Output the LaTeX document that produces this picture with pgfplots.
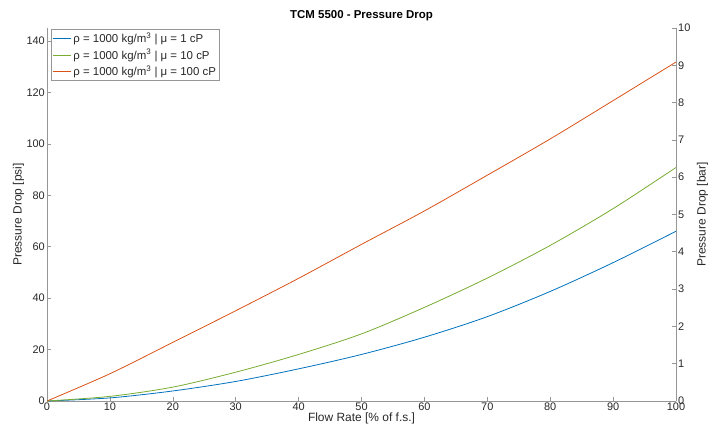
\documentclass[border=0pt]{standalone}
\usepackage{fontspec}
\setmainfont{Liberation Sans}
\usepackage{pgfplots}
\pgfplotsset{compat=1.18}

\definecolor{mblue}{RGB}{0,114,189}
\definecolor{mgreen}{RGB}{119,172,48}
\definecolor{morange}{RGB}{217,83,25}
\definecolor{axisgray}{RGB}{150,150,150}
\definecolor{labelgray}{RGB}{40,40,40}

\pgfplotsset{
  common/.style={
    at={(0,0)}, anchor=south west,
    scale only axis, width=629bp, height=373bp,
    xmin=0, xmax=100,
    tick align=inside, major tick length=4bp,
    axis line style={draw=axisgray, line width=0.6bp},
    every tick/.style={draw=axisgray, line width=0.6bp},
    tick label style={font=\fontsize{11}{12}\selectfont, text=labelgray},
    label style={font=\fontsize{12}{13}\selectfont, text=labelgray},
    /pgf/number format/assume math mode=true,
  },
}

\begin{document}
\begin{tikzpicture}
\useasboundingbox (-47bp,-26bp) rectangle (666bp,401bp);
\begin{axis}[
    common,
    ymin=0, ymax=145.038,
    axis x line*=bottom, axis y line*=left,
    xtick={0,10,...,100}, ytick={0,20,...,140},
    xticklabel style={inner sep=1bp, yshift=-0.5bp},
    yticklabel style={inner sep=2bp},
    xlabel={Flow Rate [\% of f.s.]},
    ylabel={Pressure Drop [psi]},
    xlabel style={yshift=2.5bp},
    ylabel style={yshift=-3bp},
    title={\textbf{TCM 5500 - Pressure Drop}},
    title style={font=\fontsize{11.5}{12}\selectfont, yshift=-2bp},
    legend style={at={(0.006,0.997)}, anchor=north west,
        draw=axisgray, line width=0.5bp, inner sep=1.5bp,
        font=\fontsize{11.5}{13}\selectfont, text=labelgray,
        row sep=1bp},
    legend cell align=left,
    legend image code/.code={\draw[#1, line width=0.8bp] (0bp,0bp) -- (18bp,0bp);},
]
\addplot[mblue, line width=0.8bp, smooth] coordinates {
    (0,0) (10,1.2) (20,3.9) (30,7.6) (40,12.5) (50,18.1)
    (60,24.8) (70,32.8) (80,42.6) (90,53.8) (100,66.0)
};
\addlegendentry{ρ = 1000 kg/m\textsuperscript{3} | μ = 1 cP}
\addplot[mgreen, line width=0.8bp, smooth] coordinates {
    (0,0) (10,1.8) (20,5.4) (30,11.2) (40,18.1) (50,26.1)
    (60,36.4) (70,47.8) (80,60.5) (90,74.8) (100,90.8)
};
\addlegendentry{ρ = 1000 kg/m\textsuperscript{3} | μ = 10 cP}
\addplot[morange, line width=0.8bp, smooth] coordinates {
    (0,0) (10,10.6) (20,22.8) (30,35.1) (40,47.7) (50,60.9)
    (60,73.9) (70,87.8) (80,101.9) (90,116.8) (100,131.8)
};
\addlegendentry{ρ = 1000 kg/m\textsuperscript{3} | μ = 100 cP}
\end{axis}
\begin{axis}[
    common,
    ymin=0, ymax=10,
    axis x line=none, axis y line*=right,
    ytick={0,1,...,10},
    yticklabel style={inner sep=2bp},
    ylabel={Pressure Drop [bar]},
    ylabel style={yshift=-1bp},
]
\end{axis}
\end{tikzpicture}
\end{document}
